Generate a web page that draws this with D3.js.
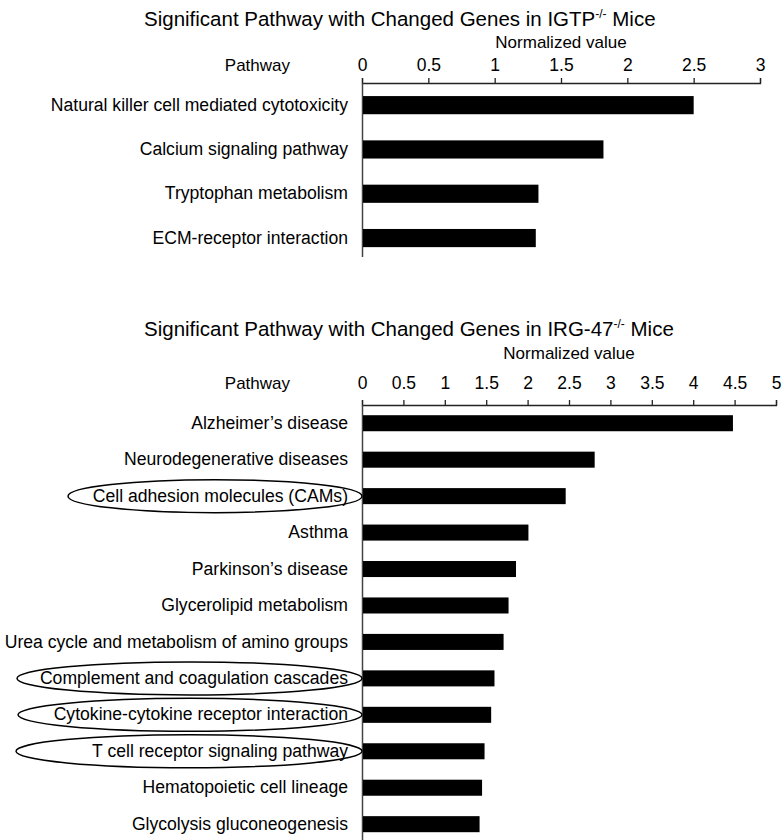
<!DOCTYPE html>
<html>
<head>
<meta charset="utf-8">
<script src="https://cdn.jsdelivr.net/npm/d3@7"></script>
<style>
  body { margin: 0; background: #fff; }
  text { font-family: "Liberation Sans", Arial, sans-serif; fill: #000; }
</style>
</head>
<body>
<script>
/* data */
var igtpPathways = ["Natural killer cell mediated cytotoxicity", "Calcium signaling pathway",
                    "Tryptophan metabolism", "ECM-receptor interaction"];
var igtpValues = [2.50, 1.82, 1.33, 1.31];
var igtpTicks = [0, 0.5, 1, 1.5, 2, 2.5, 3];

var irgPathways = ["Alzheimer\u2019s disease", "Neurodegenerative diseases", "Cell adhesion molecules (CAMs)",
                   "Asthma", "Parkinson\u2019s disease", "Glycerolipid metabolism",
                   "Urea cycle and metabolism of amino groups", "Complement and coagulation cascades",
                   "Cytokine-cytokine receptor interaction", "T cell receptor signaling pathway",
                   "Hematopoietic cell lineage", "Glycolysis gluconeogenesis"];
var irgValues = [4.48, 2.81, 2.46, 2.01, 1.86, 1.77, 1.71, 1.60, 1.56, 1.48, 1.45, 1.42];
var irgTicks = [0, 0.5, 1, 1.5, 2, 2.5, 3, 3.5, 4, 4.5, 5];

// pathways circled by hand in the figure
var circledPathways = ["Cell adhesion molecules (CAMs)", "Complement and coagulation cascades",
                       "Cytokine-cytokine receptor interaction", "T cell receptor signaling pathway"];

var width = 784, height = 840;
var axisX0 = 362; // x of the vertical axis

var svg = d3.select("body").append("svg")
            .attr("width", width)
            .attr("height", height);

function drawPanel(opt) {
    var data = opt.names.map(function(n, i) { return {name: n, value: opt.values[i]}; });

    var xScale = d3.scaleLinear()
                   .domain([0, opt.ticks[opt.ticks.length - 1]])
                   .range([axisX0, opt.axisRight]);

    var yScale = d3.scaleBand()
                   .domain(opt.names)
                   .range([opt.axisY, opt.axisY + opt.step * opt.names.length])
                   .paddingInner(opt.pad)
                   .paddingOuter(opt.pad / 2);

    // title with superscript
    var title = svg.append("text")
                   .attr("x", 144)
                   .attr("y", opt.titleY)
                   .style("font-size", "20.5px");
    title.append("tspan").text(opt.titleA);
    title.append("tspan").attr("dy", -8).style("font-size", "12px").text("-/-");
    title.append("tspan").attr("dy", 8).text(" Mice");

    svg.append("text")
       .attr("x", (axisX0 + opt.axisRight) / 2)
       .attr("y", opt.labelY)
       .attr("text-anchor", "middle")
       .style("font-size", "17px")
       .text("Normalized value");

    // top axis, ticks pointing up
    var xAxis = d3.axisTop(xScale)
                  .tickValues(opt.ticks)
                  .tickFormat(function(d) { return String(d); })
                  .tickSize(5)
                  .tickPadding(opt.tickPad);

    var gx = svg.append("g")
                .attr("transform", "translate(0," + opt.axisY + ")")
                .call(xAxis);
    gx.selectAll("path, line").attr("stroke", "#222").attr("stroke-width", 1.3);
    gx.selectAll("text").style("font-size", "17.5px").attr("fill", "#000")
      .style("font-family", "'Liberation Sans', Arial, sans-serif");

    // "Pathway" header sits on the tick-label row
    svg.append("text")
       .attr("x", 290)
       .attr("y", opt.axisY - 5 - opt.tickPad)
       .attr("text-anchor", "end")
       .style("font-size", "17px")
       .text("Pathway");

    // left axis with the pathway names
    var yAxis = d3.axisLeft(yScale)
                  .tickSize(0)
                  .tickSizeOuter(0)
                  .tickPadding(14);
    var gy = svg.append("g")
                .attr("transform", "translate(" + axisX0 + ",0)")
                .call(yAxis);
    gy.select(".domain").attr("stroke", "#444").attr("stroke-width", 1.5)
      .attr("d", "M0.5," + opt.axisY + "V" + opt.axisEnd);
    gy.selectAll("text").style("font-size", "17.6px").attr("fill", "#000")
      .style("font-family", "'Liberation Sans', Arial, sans-serif");

    svg.append("g").selectAll("rect")
       .data(data)
       .enter()
       .append("rect")
       .attr("x", xScale(0) + 1)
       .attr("y", function(d) { return yScale(d.name); })
       .attr("width", function(d) { return xScale(d.value) - xScale(0) - 1; })
       .attr("height", yScale.bandwidth())
       .attr("fill", "#000");

    return yScale;
}

drawPanel({
    names: igtpPathways, values: igtpValues, ticks: igtpTicks,
    titleA: "Significant Pathway with Changed Genes in IGTP",
    titleY: 26, labelY: 48, axisY: 83, axisRight: 760, axisEnd: 257,
    step: 44.3, pad: 0.59, tickPad: 7
});

var irgY = drawPanel({
    names: irgPathways, values: irgValues, ticks: irgTicks,
    titleA: "Significant Pathway with Changed Genes in IRG-47",
    titleY: 336, labelY: 359, axisY: 405, axisRight: 776, axisEnd: 840,
    step: 36.45, pad: 0.56, tickPad: 11
});

var ellipseLeft = [68, 17, 18, 16];
svg.append("g").selectAll("ellipse")
   .data(circledPathways)
   .enter()
   .append("ellipse")
   .attr("cx", function(d, i) { return (ellipseLeft[i] + axisX0) / 2; })
   .attr("cy", function(d) { return irgY(d) + irgY.bandwidth() / 2; })
   .attr("rx", function(d, i) { return (axisX0 - ellipseLeft[i]) / 2; })
   .attr("ry", 16.5)
   .attr("fill", "none")
   .attr("stroke", "#000")
   .attr("stroke-width", 1.5);
</script>
</body>
</html>
